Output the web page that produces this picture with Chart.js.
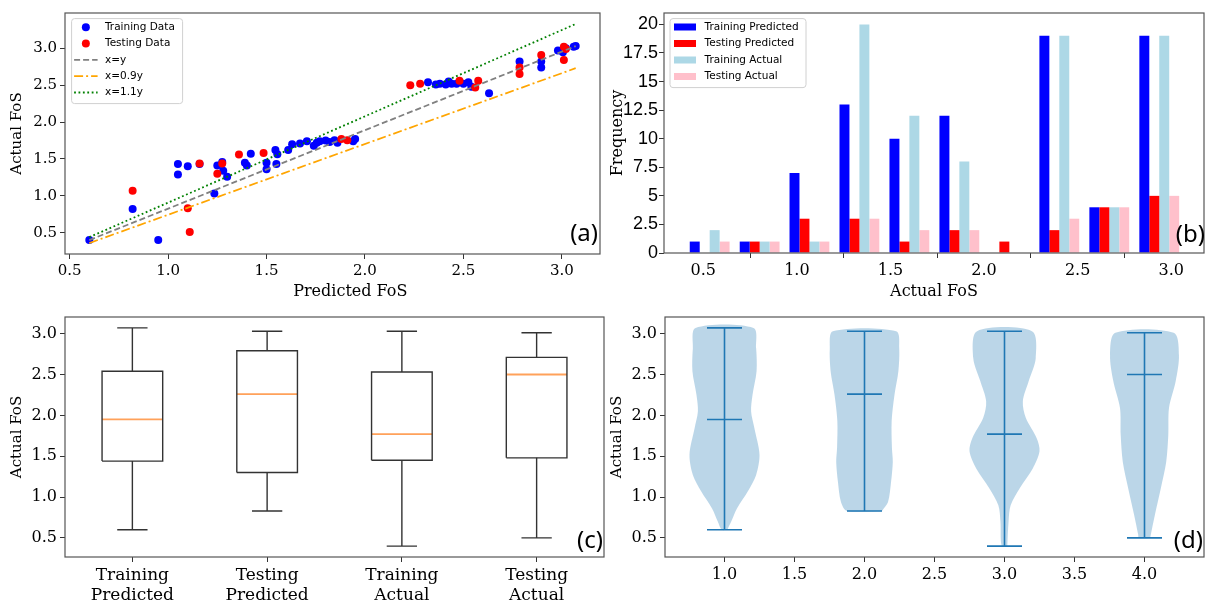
<!DOCTYPE html>
<html>
<head>
<meta charset="utf-8">
<script src="https://cdn.jsdelivr.net/npm/chart.js@4.4.1/dist/chart.umd.min.js"></script>
<style>
    body { margin: 0; background: #fff; width: 1212px; height: 608px; position: relative; overflow: hidden; }
    canvas { position: absolute; }
</style>
</head>
<body>
<canvas id="panelA" width="604" height="302" style="left:0;top:0"></canvas>
<canvas id="panelB" width="606" height="302" style="left:604px;top:0"></canvas>
<canvas id="panelC" width="606" height="304" style="left:0;top:304px"></canvas>
<canvas id="panelD" width="604" height="304" style="left:606px;top:304px"></canvas>
<script>
// ===== (a) predicted vs actual =====
const trainPred = [0.60, 0.95, 0.82, 1.05, 1.05, 1.10, 1.16, 1.235, 1.25, 1.275, 1.28, 1.30, 1.39, 1.40, 1.42,
    1.50, 1.50, 1.545, 1.555, 1.55, 1.61, 1.63, 1.67, 1.705, 1.74, 1.755, 1.77, 1.80, 1.82, 1.845, 1.86,
    1.94, 1.95, 2.32, 2.36, 2.38, 2.41, 2.425, 2.44, 2.465, 2.50, 2.525, 2.54, 2.63, 2.785, 2.895, 2.895,
    2.98, 3.005, 3.02, 3.06, 3.07];
const trainAct = [0.40, 0.40, 0.82, 1.43, 1.29, 1.40, 1.43, 1.03, 1.41, 1.46, 1.34, 1.26, 1.45, 1.41, 1.57,
    1.45, 1.36, 1.62, 1.565, 1.43, 1.62, 1.70, 1.71, 1.74, 1.68, 1.72, 1.74, 1.75, 1.73, 1.755, 1.72,
    1.74, 1.77, 2.54, 2.51, 2.52, 2.51, 2.55, 2.52, 2.52, 2.52, 2.54, 2.48, 2.39, 2.82, 2.82, 2.74,
    2.97, 2.945, 3.00, 3.02, 3.03];
const testPred = [0.82, 1.10, 1.11, 1.16, 1.275, 1.25, 1.36, 1.485, 1.88, 1.91, 2.23, 2.28, 2.48, 2.575,
    2.56, 2.785, 2.785, 2.895, 3.01, 3.01, 3.02];
const testAct = [1.07, 0.83, 0.51, 1.44, 1.44, 1.30, 1.56, 1.58, 1.77, 1.755, 2.50, 2.52, 2.56, 2.56,
    2.47, 2.74, 2.65, 2.91, 3.02, 2.84, 2.99];
const refPred = [0.60, 3.07];
const refEqual = [0.40, 3.03];
const refLow = [0.36, 2.73];
const refHigh = [0.44, 3.33];
const fosTicks = [0.5, 1.0, 1.5, 2.0, 2.5, 3.0];
const fosTickLabels = ['0.5', '1.0', '1.5', '2.0', '2.5', '3.0'];

// ===== (b) histogram =====
const binCenters = [0.534, 0.801, 1.067, 1.334, 1.601, 1.868, 2.135, 2.402, 2.669, 2.936];
const histTrainPred = [1, 1, 7, 13, 10, 12, 0, 19, 4, 19];
const histTestPred = [0, 1, 3, 3, 1, 2, 1, 2, 4, 5];
const histTrainAct = [2, 1, 1, 20, 12, 8, 0, 19, 4, 19];
const histTestAct = [1, 1, 1, 3, 2, 2, 0, 3, 4, 5];
const freqTicks = [0, 2.5, 5, 7.5, 10, 12.5, 15, 17.5, 20];
const freqTickLabels = ['0', '2.5', '5', '7.5', '10', '12.5', '15', '17.5', '20'];

// ===== (c) box plot / (d) violin plot =====
const groupNames = [['Training', 'Predicted'], ['Testing', 'Predicted'], ['Training', 'Actual'], ['Testing', 'Actual']];
const groupPos = [1, 2, 3, 4];
const statMin = [0.60, 0.83, 0.40, 0.50];
const statQ1 = [1.44, 1.30, 1.45, 1.48];
const statMed = [1.95, 2.26, 1.77, 2.50];
const statQ3 = [2.54, 2.79, 2.53, 2.71];
const statMax = [3.07, 3.03, 3.03, 3.01];

const violinLevels = [
    [0.60, 0.70, 0.86, 1.07, 1.27, 1.52, 1.84, 2.05, 2.25, 2.54, 2.82, 3.07],
    [0.83, 0.94, 1.19, 1.43, 1.60, 1.93, 2.25, 2.54, 2.82, 3.03],
    [0.40, 0.70, 0.90, 1.11, 1.35, 1.56, 1.72, 1.97, 2.17, 2.42, 2.70, 3.03],
    [0.50, 0.54, 0.78, 1.11, 1.43, 1.76, 2.09, 2.42, 2.74, 3.01]
];
const violinHalfWidths = [
    [0.02, 0.048, 0.089, 0.167, 0.226, 0.25, 0.214, 0.19, 0.20, 0.229, 0.226, 0.207],
    [0.125, 0.168, 0.19, 0.202, 0.196, 0.194, 0.214, 0.242, 0.248, 0.226],
    [0.02, 0.029, 0.044, 0.11, 0.202, 0.25, 0.23, 0.152, 0.131, 0.173, 0.223, 0.196],
    [0.04, 0.045, 0.074, 0.117, 0.155, 0.17, 0.175, 0.223, 0.246, 0.208]
];
const violinTicks = [1.0, 1.5, 2.0, 2.5, 3.0, 3.5, 4.0];
const violinTickLabels = ['1.0', '1.5', '2.0', '2.5', '3.0', '3.5', '4.0'];

const SERIF = 'DejaVu Serif';

/**
 * 线性坐标轴：固定刻度、固定占位宽/高
 */
function linAxis(o) {
    return {
        type: 'linear',
        min: o.min,
        max: o.max,
        offset: false,
        afterBuildTicks: s => { s.ticks = o.ticks.map(v => ({ value: v })); },
        afterFit: s => {
            if (s.isHorizontal()) s.height = o.size; else s.width = o.size;
            s.paddingTop = s.paddingBottom = s.paddingLeft = s.paddingRight = 0;
        },
        ticks: {
            autoSkip: false,
            maxRotation: 0,
            padding: o.pad ?? 3,
            color: '#000',
            font: o.tickFont || { family: SERIF, size: 16 },
            callback: (v, i) => o.labels[i]
        },
        grid: { drawOnChartArea: false, drawTicks: true, tickLength: 5, tickColor: '#333' },
        border: { display: false },
        title: o.title ? {
            display: true,
            text: o.title,
            color: '#000',
            font: o.titleFont || { family: SERIF, size: 15 },
            padding: o.titlePad
        } : { display: false }
    };
}

// 外框 + 面板标记
const framePlugin = {
    id: 'frame',
    afterDraw(chart, args, opts) {
        const { ctx, chartArea: a } = chart;
        ctx.save();
        ctx.strokeStyle = '#555';
        ctx.lineWidth = 1.2;
        ctx.strokeRect(a.left, a.top, a.right - a.left, a.bottom - a.top);
        if (opts.tag) {
            ctx.fillStyle = '#000';
            ctx.font = '24px "Noto Sans"';
            ctx.textAlign = 'right';
            ctx.textBaseline = 'alphabetic';
            ctx.fillText(opts.tag, a.right + opts.dx, a.bottom + opts.dy);
        }
        ctx.restore();
    }
};

// 图内图例
const insetLegend = {
    id: 'insetLegend',
    afterDatasetsDraw(chart, args, o) {
        if (!o.show) return;
        const { ctx, chartArea: a } = chart;
        const x = a.left + o.x, y = a.top + o.y;
        ctx.save();
        ctx.beginPath();
        if (ctx.roundRect) ctx.roundRect(x, y, o.w, o.h, 3); else ctx.rect(x, y, o.w, o.h);
        ctx.fillStyle = 'rgba(255,255,255,0.85)';
        ctx.fill();
        ctx.strokeStyle = '#d0d0d0';
        ctx.lineWidth = 1;
        ctx.stroke();
        ctx.font = '10.5px "DejaVu Sans"';
        ctx.textBaseline = 'middle';
        chart.data.datasets.forEach((ds, i) => {
            if (!ds.label) return;
            const cy = y + o.row0 + i * o.rowH;
            if (chart.config.type === 'bar') {
                ctx.fillStyle = ds.backgroundColor;
                ctx.fillRect(x + o.s0, cy - 3.5, o.s1 - o.s0, 7);
            } else if (ds.showLine) {
                ctx.beginPath();
                ctx.setLineDash(ds.borderDash || []);
                ctx.strokeStyle = ds.borderColor;
                ctx.lineWidth = ds.borderWidth;
                ctx.moveTo(x + o.s0, cy);
                ctx.lineTo(x + o.s1, cy);
                ctx.stroke();
                ctx.setLineDash([]);
            } else {
                ctx.beginPath();
                ctx.fillStyle = ds.backgroundColor;
                ctx.arc(x + (o.s0 + o.s1) / 2, cy, 4, 0, Math.PI * 2);
                ctx.fill();
            }
            ctx.fillStyle = '#000';
            ctx.fillText(ds.label, x + o.tx, cy);
        });
        ctx.restore();
    }
};

Chart.register(framePlugin, insetLegend);

const pairs = (xs, ys) => xs.map((x, i) => ({ x, y: ys[i] }));

// 线段集合（null 断开）
function segments(list) {
    const out = [];
    list.forEach(([p, q]) => {
        out.push({ x: p[0], y: p[1] }, { x: q[0], y: q[1] }, { x: q[0], y: null });
    });
    return out;
}

const baseOpts = {
    responsive: false,
    animation: false,
    devicePixelRatio: 1,
    events: [],
    plugins: { legend: { display: false }, tooltip: { enabled: false } }
};

// ---------- (a) ----------
new Chart(document.getElementById('panelA'), {
    type: 'scatter',
    data: {
        datasets: [
            { label: 'Training Data', data: pairs(trainPred, trainAct), backgroundColor: '#0000ff', borderWidth: 0, pointRadius: 4, order: 2 },
            { label: 'Testing Data', data: pairs(testPred, testAct), backgroundColor: '#ff0000', borderWidth: 0, pointRadius: 4, order: 1 },
            { label: 'x=y', data: pairs(refPred, refEqual), showLine: true, borderColor: '#808080', borderWidth: 1.8, borderDash: [6, 3], pointRadius: 0, order: 0 },
            { label: 'x=0.9y', data: pairs(refPred, refLow), showLine: true, borderColor: '#ffa500', borderWidth: 1.8, borderDash: [9, 3, 2, 3], pointRadius: 0, order: 0 },
            { label: 'x=1.1y', data: pairs(refPred, refHigh), showLine: true, borderColor: '#008000', borderWidth: 1.8, borderDash: [1.8, 2.6], pointRadius: 0, order: 0 }
        ]
    },
    options: {
        ...baseOpts,
        layout: { padding: { top: 13, right: 1, left: 0, bottom: 0 } },
        scales: {
            x: linAxis({ min: 0.4765, max: 3.1935, ticks: fosTicks, labels: fosTickLabels, size: 48,
                tickFont: { family: SERIF, size: 15 },
                title: '\u00a0\u00a0\u00a0\u00a0\u00a0\u00a0\u00a0Predicted FoS',
                titleFont: { family: SERIF, size: 16 }, titlePad: { top: 0, bottom: 1 } }),
            y: linAxis({ min: 0.2115, max: 3.4785, ticks: fosTicks, labels: fosTickLabels, size: 65,
                tickFont: { family: SERIF, size: 15 }, title: 'Actual FoS', titlePad: { top: 8, bottom: 0 } })
        },
        plugins: {
            ...baseOpts.plugins,
            frame: { tag: '(a)', dx: -2, dy: -13 },
            insetLegend: { show: true, x: 6.6, y: 5.6, w: 111, h: 85, row0: 8.7, rowH: 16.3, s0: 2.5, s1: 26, tx: 33.4 }
        }
    }
});

// ---------- (b) ----------
const histSet = (label, vals, color) => ({
    label, data: pairs(binCenters, vals), backgroundColor: color, borderWidth: 0,
    categoryPercentage: 0.8, barPercentage: 1.0
});

new Chart(document.getElementById('panelB'), {
    type: 'bar',
    data: {
        datasets: [
            histSet('Training Predicted', histTrainPred, '#0000ff'),
            histSet('Testing Predicted', histTestPred, '#ff0000'),
            histSet('Training Actual', histTrainAct, '#add8e6'),
            histSet('Testing Actual', histTestAct, '#ffc0cb')
        ]
    },
    options: {
        ...baseOpts,
        layout: { padding: { top: 13, right: 6, left: 0, bottom: 0 } },
        scales: {
            x: linAxis({ min: 0.29, max: 3.175, ticks: fosTicks, labels: fosTickLabels, size: 49,
                title: 'Actual FoS', titleFont: { family: SERIF, size: 16 }, titlePad: { top: 0, bottom: 1 } }),
            y: linAxis({ min: 0, max: 21, ticks: freqTicks, labels: freqTickLabels, size: 60, pad: 1,
                tickFont: { family: 'Liberation Sans', size: 18 }, title: 'Frequency',
                titleFont: { family: SERIF, size: 16 }, titlePad: { top: 4, bottom: 0 } })
        },
        plugins: {
            ...baseOpts.plugins,
            frame: { tag: '(b)', dx: 1, dy: -11 },
            insetLegend: { show: true, x: 6, y: 5.6, w: 136, h: 69, row0: 8.4, rowH: 16.5, s0: 4, s1: 26, tx: 34.6 }
        }
    }
});

// ---------- (c) ----------
const boxHalf = 0.225, capHalf = 0.1125;
const boxRects = [];
const whiskerSegs = [];
const medianSegs = [];
groupPos.forEach((p, i) => {
    boxRects.push({ x: p - boxHalf, y: statQ1[i] }, { x: p + boxHalf, y: statQ1[i] }, { x: p + boxHalf, y: statQ3[i] },
        { x: p - boxHalf, y: statQ3[i] }, { x: p - boxHalf, y: statQ1[i] }, { x: p, y: null });
    whiskerSegs.push(
        [[p, statQ1[i]], [p, statMin[i]]], [[p, statQ3[i]], [p, statMax[i]]],
        [[p - capHalf, statMin[i]], [p + capHalf, statMin[i]]], [[p - capHalf, statMax[i]], [p + capHalf, statMax[i]]]
    );
    medianSegs.push([[p - boxHalf, statMed[i]], [p + boxHalf, statMed[i]]]);
});

new Chart(document.getElementById('panelC'), {
    type: 'line',
    data: {
        datasets: [
            { data: boxRects, borderColor: '#333', borderWidth: 1.4, pointRadius: 0, spanGaps: false },
            { data: segments(whiskerSegs), borderColor: '#333', borderWidth: 1.4, pointRadius: 0, spanGaps: false },
            { data: segments(medianSegs), borderColor: '#ffa15a', borderWidth: 1.8, pointRadius: 0, spanGaps: false }
        ]
    },
    options: {
        ...baseOpts,
        layout: { padding: { top: 13, right: 2, left: 0, bottom: 0 } },
        scales: {
            x: linAxis({ min: 0.5, max: 4.5, ticks: groupPos, labels: groupNames, size: 51,
                tickFont: { family: SERIF, size: 17, lineHeight: 1.2 } }),
            y: linAxis({ min: 0.2665, max: 3.2035, ticks: fosTicks, labels: fosTickLabels, size: 65,
                title: 'Actual FoS', titlePad: { top: 8, bottom: 0 } })
        },
        plugins: {
            ...baseOpts.plugins,
            frame: { tag: '(c)', dx: -1, dy: -9 }
        }
    }
});

// ---------- (d) ----------
function violinShape(k) {
    const p = groupPos[k], lv = violinLevels[k], hw = violinHalfWidths[k];
    const right = lv.map((y, i) => ({ x: p + hw[i], y }));
    const left = lv.map((y, i) => ({ x: p - hw[i], y })).reverse();
    return right.concat(left, [right[0]]);
}
const statHalf = 0.125;
const violinLines = [];
groupPos.forEach((p, i) => {
    violinLines.push(
        [[p, statMin[i]], [p, statMax[i]]],
        [[p - statHalf, statMin[i]], [p + statHalf, statMin[i]]],
        [[p - statHalf, statMax[i]], [p + statHalf, statMax[i]]],
        [[p - statHalf, statMed[i]], [p + statHalf, statMed[i]]]
    );
});

new Chart(document.getElementById('panelD'), {
    type: 'line',
    data: {
        datasets: [
            { data: segments(violinLines), borderColor: '#1f77b4', borderWidth: 1.6, pointRadius: 0, spanGaps: false, order: 0 },
            ...groupPos.map((p, k) => ({
                data: violinShape(k), borderWidth: 0, borderColor: 'rgba(0,0,0,0)',
                backgroundColor: 'rgba(31,119,180,0.3)', fill: 'shape', tension: 0.3, pointRadius: 0, order: 1
            }))
        ]
    },
    options: {
        ...baseOpts,
        layout: { padding: { top: 13, right: 6, left: 0, bottom: 0 } },
        scales: {
            x: linAxis({ min: 0.575, max: 4.425, ticks: violinTicks, labels: violinTickLabels, size: 51 }),
            y: linAxis({ min: 0.2665, max: 3.2035, ticks: fosTicks, labels: fosTickLabels, size: 59,
                title: 'Actual FoS', titlePad: { top: 2.6, bottom: 0 } })
        },
        plugins: {
            ...baseOpts.plugins,
            frame: { tag: '(d)', dx: -1, dy: -9 }
        }
    }
});
</script>
</body>
</html>
